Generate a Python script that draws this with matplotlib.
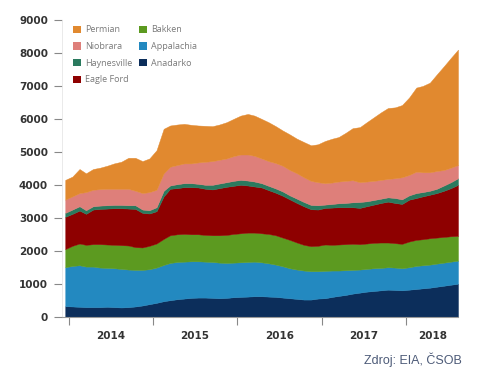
import matplotlib
matplotlib.use("Agg")
import matplotlib.pyplot as plt
from matplotlib.patches import Patch
import pandas as pd

# monthly data, Dec 2013 .. Aug 2018
dates = pd.date_range("2013-12-01", periods=57, freq="MS") + pd.Timedelta(days=14)

anadarko = [320, 310, 300, 290, 290, 290, 300, 290, 280, 290, 310, 340, 380, 420, 470,
            500, 530, 550, 570, 580, 580, 570, 560, 570, 590, 600, 610, 620, 620, 610,
            600, 580, 560, 540, 520, 520, 550, 560, 600, 630, 660, 700, 730, 760, 780,
            800, 820, 810, 800, 820, 840, 860, 880, 910, 940, 970, 1000]
appalachia = [1180, 1230, 1260, 1230, 1230, 1200, 1180, 1180, 1170, 1140, 1110, 1080, 1060, 1070, 1100,
              1130, 1130, 1120, 1110, 1100, 1090, 1090, 1080, 1060, 1050, 1050, 1050, 1050, 1030, 1010,
              980, 950, 910, 890, 880, 860, 830, 830, 800, 770, 750, 720, 700, 690, 690,
              680, 680, 680, 670, 680, 700, 700, 700, 700, 700, 700, 700]
bakken = [550, 610, 660, 660, 680, 710, 710, 710, 720, 730, 690, 680, 710, 730, 790,
          840, 840, 840, 820, 820, 810, 810, 830, 850, 870, 880, 890, 880, 880, 890,
          890, 870, 860, 820, 780, 760, 770, 800, 780, 790, 790, 790, 770, 770, 770,
          770, 750, 740, 740, 780, 790, 790, 800, 790, 780, 770, 750]
eagle_ford = [980, 970, 1000, 940, 1050, 1070, 1090, 1110, 1120, 1120, 1160, 1050, 980, 980, 1290,
              1410, 1400, 1420, 1430, 1420, 1400, 1390, 1430, 1460, 1460, 1470, 1430, 1400, 1390, 1330,
              1290, 1270, 1230, 1200, 1170, 1120, 1100, 1110, 1130, 1130, 1120, 1110, 1100, 1130, 1160,
              1200, 1240, 1220, 1210, 1270, 1270, 1300, 1320, 1350, 1400, 1460, 1550]
haynesville = [120, 130, 130, 110, 100, 100, 100, 100, 100, 100, 110, 100, 100, 120, 170,
               100, 120, 120, 120, 110, 120, 140, 140, 140, 150, 150, 150, 150, 130, 130,
               130, 130, 120, 130, 130, 130, 130, 100, 110, 120, 130, 150, 180, 150, 140,
               130, 130, 150, 140, 130, 150, 130, 120, 130, 160, 180, 200]
niobrara = [400, 400, 400, 550, 500, 500, 500, 490, 490, 500, 440, 500, 550, 530, 530,
            570, 580, 600, 600, 650, 700, 720, 720, 720, 750, 770, 790, 780, 750, 750,
            770, 780, 770, 770, 750, 730, 700, 650, 650, 660, 670, 670, 600, 600, 580,
            570, 560, 600, 670, 620, 650, 600, 560, 540, 470, 440, 400]
permian = [600, 600, 730, 570, 630, 650, 700, 770, 820, 940, 1000, 970, 1020, 1200, 1350,
           1250, 1230, 1200, 1170, 1120, 1090, 1060, 1070, 1100, 1130, 1180, 1230, 1220, 1200, 1180,
           1120, 1070, 1080, 1050, 1070, 1080, 1150, 1280, 1330, 1350, 1460, 1580, 1670, 1800, 1930,
           2050, 2150, 2150, 2190, 2350, 2550, 2620, 2720, 2930, 3150, 3330, 3500]

series_names = ["Anadarko", "Appalachia", "Bakken", "Eagle Ford", "Haynesville", "Niobrara", "Permian"]
series_values = [anadarko, appalachia, bakken, eagle_ford, haynesville, niobrara, permian]
colors = ["#0C2E5B", "#2389C0", "#5C9A20", "#8E0000", "#2A7A5E", "#DE7F7A", "#E1892F"]

year_labels = ["2014", "2015", "2016", "2017", "2018"]
y_ticks = [0, 1000, 2000, 3000, 4000, 5000, 6000, 7000, 8000, 9000]

fig = plt.figure(figsize=(5.0, 3.73), dpi=100)
ax = fig.add_axes([62 / 500, 1 - 316.7 / 373, (458 - 62) / 500, (316.7 - 20) / 373])

polys = ax.stackplot(dates, *series_values, colors=colors, labels=series_names, linewidth=0)
for p, c in zip(polys, colors):
    p.set_edgecolor(c)
    p.set_linewidth(0.3)

ax.set_xlim(pd.Timestamp("2013-12-01"), dates[-1])
ax.set_ylim(0, 9000)

# y axis
ax.set_yticks(y_ticks)
ax.set_yticklabels([str(v) for v in y_ticks], fontsize=7.5, fontweight="bold", color="#333333")
ax.tick_params(axis="y", length=6, width=0.8, color="#888888", pad=4, direction="out")

# x axis: tick marks at year starts, labels centered in visible part of year
year_starts = [pd.Timestamp(f"{y}-01-01") for y in year_labels]
ax.set_xticks(year_starts)
ax.set_xticklabels([""] * len(year_starts))
ax.tick_params(axis="x", which="major", length=6, width=0.8, color="#888888")
label_pos = [pd.Timestamp("2014-07-01"), pd.Timestamp("2015-07-01"), pd.Timestamp("2016-07-01"),
             pd.Timestamp("2017-07-01"), pd.Timestamp("2018-04-25")]
ax.set_xticks(label_pos, minor=True)
ax.set_xticklabels(year_labels, minor=True, fontsize=7.5, fontweight="bold", color="#333333")
ax.tick_params(axis="x", which="minor", length=0, pad=10)

for s in ["top", "right"]:
    ax.spines[s].set_visible(False)
ax.spines["left"].set_color("#e6e6e6")
ax.spines["left"].set_linewidth(0.6)
ax.spines["bottom"].set_color("#999999")
ax.spines["bottom"].set_linewidth(0.8)

# legend
handles = [Patch(facecolor=c, edgecolor="none") for c in colors]
order = [6, 5, 4, 3, 2, 1, 0]
leg = ax.legend([handles[i] for i in order], [series_names[i] for i in order],
                loc="upper left", bbox_to_anchor=(0.013, 1.0), ncol=2, frameon=False,
                handlelength=0.9, handleheight=0.9, handletextpad=0.5,
                columnspacing=0.7, labelspacing=0.85, borderaxespad=0.2,
                prop={"family": "Open Sans", "size": 6.5})
for t in leg.get_texts():
    t.set_color("#7a7a7a")

fig.text(462 / 500, 1 - 360 / 373, "Zdroj: EIA, ČSOB", ha="right", va="center",
         fontsize=9, color="#4d5b78", family="Liberation Sans")

fig.savefig("out.png", dpi=100)
